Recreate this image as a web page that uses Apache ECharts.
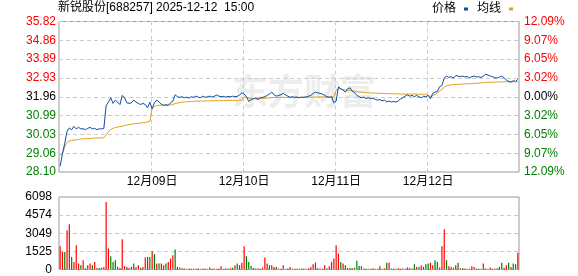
<!DOCTYPE html>
<html><head><meta charset="utf-8">
<script src="https://cdn.jsdelivr.net/npm/echarts@6/dist/echarts.min.js"></script>
<style>html,body{margin:0;padding:0;background:#fff}#c{width:578px;height:276px}</style>
</head><body><div id="c"></div>
<script>
const titleText = '新锐股份[688257] 2025-12-12  15:00';
const days = ['12月08日', '12月09日', '12月10日', '12月11日', '12月12日'];
const prevClose = 31.96;
const priceTicks = ['28.10', '29.06', '30.03', '30.99', '31.96', '32.93', '33.89', '34.86', '35.82'];
const pctTicks = ['12.09%', '9.07%', '6.05%', '3.02%', '0.00%', '3.02%', '6.05%', '9.07%', '12.09%'];
const volTicks = ['0', '1525', '3049', '4574', '6098'];
const volMax = 6098;

// price (每日 40 个采样点)
const price1 = [28.40, 29.03, 29.58, 30.19, 30.36, 30.27, 30.44, 30.31, 30.39, 30.31,
  30.32, 30.27, 30.34, 30.39, 30.31, 30.34, 30.27, 30.32, 30.31, 30.34,
  31.51, 31.68, 31.91, 31.62, 31.79, 31.68, 31.56, 32.03, 31.91, 31.65,
  31.62, 31.65, 31.79, 31.68, 31.62, 31.56, 31.62, 31.56, 31.39, 31.68];
const price2 = [31.34, 31.65, 31.79, 31.69, 31.58, 31.52, 31.55, 31.52, 31.65, 31.74,
  32.06, 31.96, 31.93, 31.96, 31.91, 31.94, 31.89, 31.96, 31.93, 31.99,
  31.94, 31.91, 31.99, 31.93, 31.96, 31.99, 31.94, 31.98, 32.05, 31.99,
  31.96, 31.98, 31.94, 31.98, 31.96, 31.99, 31.96, 31.98, 32.06, 32.16];
const price3 = [32.10, 31.96, 31.72, 31.80, 31.86, 31.89, 31.82, 31.91, 31.93, 31.96,
  32.03, 32.10, 32.20, 32.06, 31.99, 32.03, 32.06, 32.13, 32.06, 31.99,
  31.93, 31.96, 31.93, 31.94, 31.91, 31.94, 31.93, 31.96, 31.99, 32.03,
  32.13, 32.20, 32.16, 32.13, 32.10, 32.03, 31.96, 31.93, 31.96, 31.65];
const price4 = [31.74, 32.47, 32.37, 32.30, 32.20, 32.37, 32.42, 32.25, 32.17, 32.03,
  31.96, 31.91, 31.94, 31.87, 31.91, 31.86, 31.89, 31.82, 31.79, 31.82,
  31.75, 31.79, 31.70, 31.74, 31.69, 31.72, 31.69, 31.74, 31.86, 31.91,
  31.99, 32.06, 31.99, 32.03, 31.96, 32.03, 31.96, 31.91, 31.99, 31.96];
const price5 = [32.03, 31.86, 32.13, 32.20, 32.23, 32.47, 32.54, 32.93, 33.02, 32.95,
  32.99, 32.92, 33.05, 33.02, 32.99, 33.02, 32.97, 33.00, 32.93, 32.99,
  33.02, 32.97, 32.99, 32.95, 33.02, 33.12, 33.07, 33.02, 32.99, 32.93,
  32.92, 32.97, 33.02, 32.93, 32.82, 32.75, 32.71, 32.78, 32.75, 32.85];

// 均价
const avg1 = [28.95, 29.05, 29.40, 29.62, 29.68, 29.72, 29.74, 29.75, 29.77, 29.79,
  29.80, 29.81, 29.82, 29.82, 29.83, 29.84, 29.84, 29.85, 29.85, 29.86,
  30.00, 30.18, 30.28, 30.34, 30.38, 30.41, 30.43, 30.45, 30.48, 30.51,
  30.53, 30.55, 30.57, 30.58, 30.60, 30.61, 30.63, 30.64, 30.66, 30.70];
const avg2 = [31.38, 31.46, 31.50, 31.52, 31.53, 31.53, 31.53, 31.53, 31.54, 31.56,
  31.61, 31.64, 31.66, 31.68, 31.69, 31.70, 31.71, 31.72, 31.72, 31.73,
  31.73, 31.74, 31.74, 31.74, 31.75, 31.75, 31.75, 31.75, 31.76, 31.76,
  31.76, 31.76, 31.76, 31.77, 31.77, 31.77, 31.77, 31.77, 31.78, 31.79];
const avg3 = [31.95, 31.93, 31.88, 31.86, 31.86, 31.86, 31.86, 31.87, 31.87, 31.88,
  31.89, 31.90, 31.92, 31.92, 31.92, 31.92, 31.93, 31.93, 31.93, 31.93,
  31.93, 31.93, 31.93, 31.93, 31.93, 31.93, 31.93, 31.93, 31.93, 31.94,
  31.94, 31.95, 31.95, 31.95, 31.95, 31.95, 31.95, 31.95, 31.95, 31.95];
const avg4 = [32.30, 32.38, 32.36, 32.33, 32.30, 32.29, 32.29, 32.27, 32.25, 32.22,
  32.20, 32.19, 32.18, 32.17, 32.16, 32.16, 32.15, 32.15, 32.14, 32.14,
  32.13, 32.13, 32.12, 32.12, 32.11, 32.11, 32.11, 32.10, 32.10, 32.10,
  32.10, 32.10, 32.10, 32.10, 32.10, 32.09, 32.09, 32.09, 32.09, 32.09];
const avg5 = [32.02, 31.98, 32.02, 32.08, 32.14, 32.25, 32.35, 32.45, 32.52, 32.55,
  32.57, 32.58, 32.59, 32.60, 32.61, 32.61, 32.62, 32.62, 32.63, 32.63,
  32.64, 32.65, 32.66, 32.67, 32.68, 32.69, 32.70, 32.70, 32.71, 32.71,
  32.72, 32.72, 32.72, 32.73, 32.73, 32.73, 32.73, 32.73, 32.73, 32.73];

// 成交量
const vol1 = [1960, 1480, 1480, 3300, 3800, 1060, 640, 2040, 500, 360, 780, 100, 360, 500, 360, 640, 120, 100, 150, 200,
  5680, 1760, 1120, 640, 780, 230, 120, 2545, 280, 220, 120, 220, 500, 220, 360, 150, 200, 1000, 1060, 1060];
const vol2 = [1540, 1290, 500, 500, 500, 360, 500, 640, 920, 1200, 1680, 220, 170, 100, 80, 60, 80, 60, 80, 60,
  90, 60, 80, 60, 70, 170, 60, 80, 60, 90, 280, 60, 80, 90, 100, 150, 360, 500, 360, 560];
const vol3 = [1960, 1120, 640, 300, 120, 80, 100, 60, 150, 1000, 500, 360, 360, 220, 220, 80, 60, 360, 60, 80,
  220, 80, 60, 60, 80, 60, 80, 60, 100, 220, 450, 590, 100, 80, 60, 360, 100, 280, 640, 920];
const vol4 = [2040, 1340, 640, 500, 360, 150, 120, 100, 150, 730, 300, 280, 80, 60, 60, 60, 80, 60, 60, 280,
  60, 100, 560, 560, 80, 60, 60, 120, 60, 80, 60, 170, 120, 80, 450, 220, 220, 360, 220, 450];
const vol5 = [500, 560, 360, 780, 640, 170, 1960, 3380, 780, 280, 220, 150, 360, 560, 120, 100, 80, 60, 60, 280,
  220, 80, 60, 60, 500, 80, 60, 170, 60, 80, 100, 220, 560, 150, 360, 560, 220, 500, 450, 1400];
// 1 = 上涨(红), 0 = 下跌(绿)
const up1 = [1,1,0,1,1,0,1,1,1,0,1,0,1,1,0,1,1,0,1,1,1,1,0,0,0,1,0,1,1,0,1,1,0,1,1,0,1,1,1,0];
const up2 = [1,0,1,0,1,1,0,1,1,1,0,1,1,0,1,0,1,0,1,0,1,0,1,0,1,1,0,1,0,1,1,0,1,0,1,0,1,0,1,1];
const up3 = [1,0,0,0,1,0,1,0,1,1,1,0,1,1,0,1,0,1,0,1,1,0,1,0,1,0,1,0,1,1,1,1,0,1,0,1,0,1,1,1];
const up4 = [1,1,0,1,0,1,0,1,0,0,0,0,1,0,1,0,1,0,1,1,0,1,0,1,0,1,0,1,0,1,0,1,1,0,0,1,0,1,0,0];
const up5 = [0,1,1,0,0,1,1,1,0,1,1,0,1,0,1,0,1,0,1,1,1,0,1,0,1,0,1,1,0,1,0,0,0,1,1,0,1,0,0,1];

const perDay = price1.length;
const price = [].concat(price1, price2, price3, price4, price5);
const avg = [].concat(avg1, avg2, avg3, avg4, avg5);
const vol = [].concat(vol1, vol2, vol3, vol4, vol5);
const up = [].concat(up1, up2, up3, up4, up5);
const cats = [];
days.forEach(d => { for (let k = 0; k < perDay; k++) cats.push(d + '|' + k); });

// 价格轴以相对昨收的“分”为单位，使刻度从 min 起算
const yMin = Math.round((Number(priceTicks[0]) - prevClose) * 100);
const yMax = Math.round((Number(priceTicks[priceTicks.length - 1]) - prevClose) * 100);
const yInt = (yMax - yMin) / (priceTicks.length - 1);
const toY = p => Math.round((p - prevClose) * 10000) / 100;
const tickIdx = v => Math.round((Number(v) - yMin) / yInt);
const mid = (priceTicks.length - 1) / 2;
const tickColor = v => { const i = tickIdx(v); return i > mid ? '#ff0000' : (i < mid ? '#008000' : '#000000'); };

const FONT = "'Liberation Sans', 'Noto Sans CJK SC', sans-serif";
const dash = { color: '#cccccc', type: [4, 3], width: 1 };
const dayStart = i => i > 0 && i % perDay === 0;

const chart = echarts.init(document.getElementById('c'), null, { renderer: 'canvas' });
chart.setOption({
  animation: false,
  backgroundColor: '#ffffff',
  textStyle: { fontFamily: FONT },
  title: {
    text: titleText, left: 58, top: 2, padding: 0,
    textStyle: { fontSize: 12, fontWeight: 'normal', color: '#000', fontFamily: FONT }
  },
  legend: {
    right: 65, top: 3, padding: 0, align: 'right', icon: 'rect',
    itemWidth: 4, itemHeight: 3, itemGap: 9,
    textStyle: { fontSize: 12, color: '#000', fontFamily: FONT, padding: [0, 3, 0, 0] },
    data: ['价格', '均线']
  },
  graphic: [{
    type: 'text', left: 232, top: 77, z: -10, silent: true,
    style: { text: '东方财富', fontSize: 36, fontWeight: 'bold', fill: '#ededed', fontFamily: FONT }
  }],
  grid: [
    { left: 59, right: 59, top: 21.5, height: 150.5, show: true, borderColor: '#999', borderWidth: 1 },
    { left: 59, right: 59, top: 197, height: 72.5, show: true, borderColor: '#999', borderWidth: 1 }
  ],
  xAxis: [
    {
      type: 'category', gridIndex: 0, data: cats, boundaryGap: true,
      axisLine: { show: false }, axisTick: { show: false },
      axisLabel: { interval: dayStart, formatter: v => v.split('|')[0], fontSize: 12, color: '#000', margin: 4, fontFamily: FONT },
      splitLine: { show: true, interval: dayStart, lineStyle: dash }
    },
    {
      type: 'category', gridIndex: 1, data: cats, boundaryGap: true,
      axisLine: { show: false }, axisTick: { show: false }, axisLabel: { show: false }, splitLine: { show: false }
    }
  ],
  yAxis: [
    {
      type: 'value', gridIndex: 0, min: yMin, max: yMax, interval: yInt, position: 'left',
      axisLine: { show: false }, axisTick: { show: false },
      axisLabel: { formatter: v => priceTicks[tickIdx(v)], color: v => tickColor(v), fontSize: 12, margin: 3, fontFamily: FONT },
      splitLine: { show: true, lineStyle: dash }
    },
    {
      type: 'value', gridIndex: 0, min: yMin, max: yMax, interval: yInt, position: 'right',
      axisLine: { show: false }, axisTick: { show: false },
      axisLabel: { formatter: v => pctTicks[tickIdx(v)], color: v => tickColor(v), fontSize: 12, margin: 5, fontFamily: FONT },
      splitLine: { show: false }
    },
    {
      type: 'value', gridIndex: 1, min: 0, max: volMax, interval: volMax / (volTicks.length - 1),
      axisLine: { show: false }, axisTick: { show: false },
      axisLabel: { formatter: v => volTicks[Math.round(Number(v) / (volMax / (volTicks.length - 1)))], color: '#000', fontSize: 12, margin: 7, fontFamily: FONT },
      splitLine: { show: true, lineStyle: dash }
    }
  ],
  series: [
    {
      name: '价格', type: 'line', xAxisIndex: 0, yAxisIndex: 0, data: price.map(toY),
      showSymbol: false, symbol: 'none', color: '#0b4d9e', lineStyle: { width: 1, color: '#0b4d9e' }, z: 4
    },
    {
      name: '均线', type: 'line', xAxisIndex: 0, yAxisIndex: 0, data: avg.map(toY),
      showSymbol: false, symbol: 'none', color: '#e0a01c', lineStyle: { width: 1, color: '#e0a01c' }, z: 3
    },
    {
      name: '成交量', type: 'bar', xAxisIndex: 1, yAxisIndex: 2, barWidth: 1.2,
      data: vol.map((v, i) => ({ value: v, itemStyle: { color: up[i] ? '#ff0000' : '#008000' } }))
    }
  ]
});
</script>
</body></html>
